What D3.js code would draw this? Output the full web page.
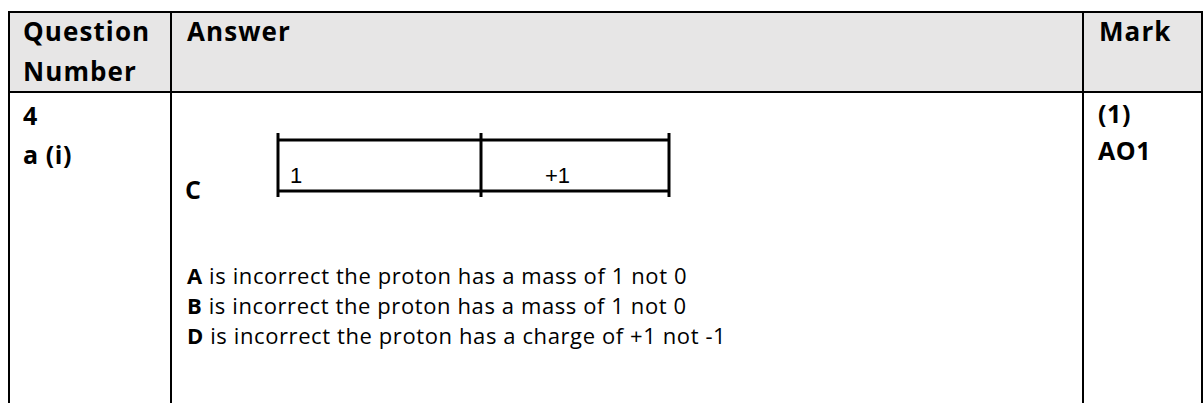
<!DOCTYPE html>
<html>
<head>
<meta charset="utf-8">
<script src="https://cdn.jsdelivr.net/npm/d3@7"></script>
<style>
body { margin: 0; background: #fff; }
svg text { font-family: "Open Sans", sans-serif; fill: #000; }
</style>
</head>
<body>
<svg id="sheet" width="1203" height="403"></svg>
<script>
// table content
var headerLabels = [["Question", "Number"], ["Answer"], ["Mark"]];
var questionLines = ["4", "a (i)"];
var answerKey = "C";
var boxValues = ["1", "+1"];
var reasonKeys = ["A", "B", "D"];
var reasonTexts = [
	" is incorrect the proton has a mass of 1 not 0",
	" is incorrect the proton has a mass of 1 not 0",
	" is incorrect the proton has a charge of +1 not -1"
];
var markLines = ["(1)", "AO1"];

var svg = d3.select('#sheet');

// layout
var colEdges = [9, 171, 1083, 1202];
var tableTop = 12, headBottom = 92, tableBottom = 410;
var pad = 15;

// header background
svg.append('rect')
	.attr('x', colEdges[0]).attr('y', tableTop)
	.attr('width', colEdges[3] - colEdges[0]).attr('height', headBottom - tableTop)
	.attr('fill', '#e7e6e6');

// grid lines
var grid = svg.append('g').attr('stroke', '#000').attr('stroke-width', 2);
grid.selectAll('line.v').data(colEdges).enter().append('line')
	.attr('class', 'v')
	.attr('x1', d => d).attr('x2', d => d)
	.attr('y1', tableTop - 1).attr('y2', tableBottom);
grid.selectAll('line.h').data([tableTop, headBottom]).enter().append('line')
	.attr('class', 'h')
	.attr('x1', colEdges[0] - 1).attr('x2', colEdges[3] + 1)
	.attr('y1', d => d).attr('y2', d => d);

// header text
var headG = svg.append('g').attr('font-weight', 'bold').attr('font-size', 26)
	.attr('letter-spacing', 1.1);
headerLabels.forEach(function(lines, c) {
	headG.selectAll(null).data(lines).enter().append('text')
		.attr('x', colEdges[c] + (c == 0 ? 14 : 16))
		.attr('y', (d, i) => 41 + i * 40)
		.text(d => d);
});

// question number / mark columns
var bodyBold = svg.append('g').attr('font-weight', 'bold').attr('font-size', 25)
	.attr('letter-spacing', 0.6);
bodyBold.selectAll(null).data(questionLines).enter().append('text')
	.attr('x', colEdges[0] + 14)
	.attr('y', (d, i) => 125 + i * 39)
	.text(d => d);
bodyBold.selectAll(null).data(markLines).enter().append('text')
	.attr('x', colEdges[2] + 15)
	.attr('y', (d, i) => 123 + i * 37)
	.text(d => d);

// answer key letter
bodyBold.append('text')
	.attr('x', colEdges[1] + pad - 1).attr('y', 199)
	.text(answerKey);

// mass / charge box
var boxEdges = [278, 481, 669];
var boxTop = 140, boxBottom = 191;
var box = svg.append('g').attr('stroke', '#000').attr('stroke-width', 3);
box.selectAll('line.tick').data(boxEdges).enter().append('line')
	.attr('class', 'tick')
	.attr('x1', d => d).attr('x2', d => d)
	.attr('y1', boxTop - 7).attr('y2', boxBottom + 6);
box.selectAll('line.edge').data([boxTop, boxBottom]).enter().append('line')
	.attr('class', 'edge')
	.attr('x1', boxEdges[0]).attr('x2', boxEdges[2])
	.attr('y1', d => d).attr('y2', d => d);

svg.selectAll('text.box').data(boxValues).enter().append('text')
	.attr('class', 'box')
	.style('font-family', '"Liberation Sans", Arial, sans-serif')
	.attr('font-size', 22)
	.attr('x', (d, i) => boxEdges[i] + (i == 0 ? 12 : 64))
	.attr('y', 183)
	.text(d => d);

// reasons, a line per option
var reasons = svg.append('g').attr('font-size', 22).attr('letter-spacing', 0.6);
var rows = reasons.selectAll('text').data(reasonKeys).enter().append('text')
	.attr('x', colEdges[1] + pad + 1)
	.attr('y', (d, i) => 284 + i * 30);
rows.append('tspan').attr('font-weight', 'bold').text(d => d);
rows.append('tspan').text((d, i) => reasonTexts[i]);
</script>
</body>
</html>
